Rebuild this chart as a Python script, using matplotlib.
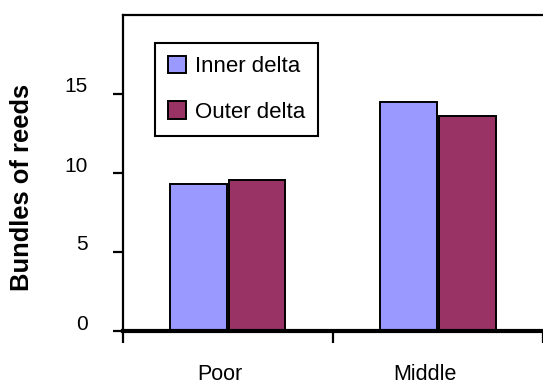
import matplotlib
matplotlib.use("Agg")
import matplotlib.pyplot as plt
import matplotlib.transforms as mtransforms
import numpy as np

categories = ["Poor", "Middle"]
series_names = ["Inner delta", "Outer delta"]
inner_delta = [9.3, 14.5]
outer_delta = [9.55, 13.6]
y_ticks = [0, 5, 10, 15]
colors = ["#9999FF", "#993366"]

plt.rcParams['font.family'] = ['Liberation Sans', 'DejaVu Sans']

W, H = 543, 387
fig = plt.figure(figsize=(W / 100, H / 100), dpi=100)
left_px, right_px, top_px, zero_px = 122.5, 543, 15, 331
ax = fig.add_axes([left_px / W, (H - zero_px) / H, (right_px - left_px) / W, (zero_px - top_px) / H])

x = np.arange(len(categories))
bw = 0.27
off = 0.14
ax.bar(x - off, inner_delta, bw, color=colors[0], edgecolor="black", linewidth=1.4, label=series_names[0], zorder=2)
ax.bar(x + off, outer_delta, bw, color=colors[1], edgecolor="black", linewidth=1.4, label=series_names[1], zorder=2)

cat_w = 214.5
ax.set_xlim(-0.5, -0.5 + (right_px - left_px) / cat_w)
ax.set_ylim(0, 20)

ax.spines['right'].set_visible(False)
for s in ['left', 'top']:
    ax.spines[s].set_linewidth(1.6)
ax.spines['bottom'].set_linewidth(3.0)
ax.spines['bottom'].set_zorder(3)

ax.set_xticks(np.arange(len(categories) + 1) - 0.5)
ax.set_xticklabels([])
ax.set_xticks(x, minor=True)
ax.set_xticklabels(categories, minor=True, fontsize=15.5)
ax.tick_params(axis='x', which='major', direction='out', length=8.6, width=1.6)
ax.tick_params(axis='x', which='minor', length=0, pad=24)
label_dx = [-8, -13]
for lab, dx in zip(ax.get_xticklabels(minor=True), label_dx):
    lab.set_transform(lab.get_transform() + mtransforms.ScaledTranslation(dx / 100, 0, fig.dpi_scale_trans))

ax.set_yticks(y_ticks)
ax.set_yticklabels([str(v) for v in y_ticks], fontsize=15)
ax.tick_params(axis='y', direction='out', length=7, width=1.6, pad=18)
for lab in ax.get_yticklabels():
    lab.set_transform(lab.get_transform() + mtransforms.ScaledTranslation(0, 9 / 100, fig.dpi_scale_trans))

fig.text(22 / W, 1 - 187 / H, "Bundles of reeds", rotation=90, fontsize=18.4, fontweight='bold',
         ha='center', va='center')

leg = ax.legend(loc='upper left', bbox_to_anchor=(155 / W, 1 - 42.7 / H), bbox_transform=fig.transFigure,
                fontsize=16, frameon=True, fancybox=False, edgecolor='black', framealpha=1,
                handlelength=0.82, handleheight=0.82, handletextpad=0.4, labelspacing=1.1,
                borderpad=0.58, borderaxespad=0)
leg.get_frame().set_linewidth(1.5)

fig.savefig("out.png", dpi=100)
